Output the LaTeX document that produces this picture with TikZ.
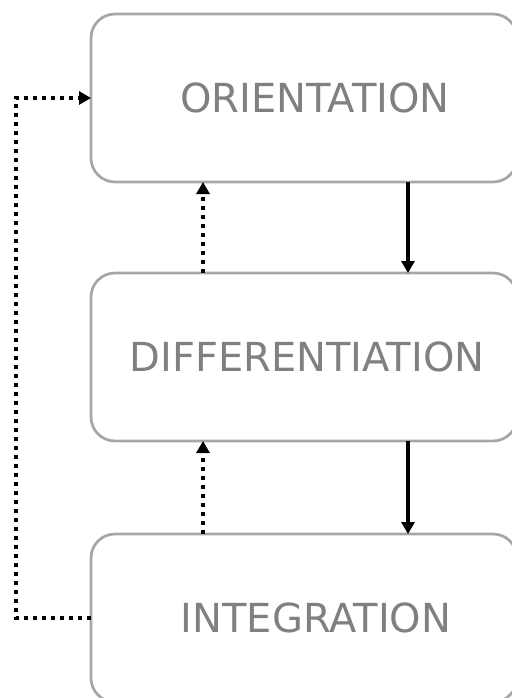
\documentclass[tikz,border=0pt]{standalone}
\usepackage{fontspec}
\setmainfont{DejaVu Sans}
\usepackage{xcolor}
\usetikzlibrary{arrows.meta,positioning,calc}
\definecolor{boxgray}{HTML}{A6A6A6}
\definecolor{textgray}{HTML}{808080}

\begin{document}
\begin{tikzpicture}[
    x=1pt, y=1pt,
    stage/.style={rectangle, draw=boxgray, line width=2.7pt, rounded corners=24pt, minimum width=426pt, minimum height=168pt, inner sep=0pt, outer sep=0pt},
    stagetext/.style={font=\fontsize{40}{48}\selectfont, text=textgray, inner sep=0pt},
    arrow/.style={-{Triangle[width=13pt,length=12pt]}, line width=3.8pt},
    fbarrow/.style={arrow, dash pattern=on 4pt off 5pt}
]
    \useasboundingbox (0,0) rectangle (511,-698);

    % Stages
    \node[stage, label={[stagetext, xshift=11pt]center:ORIENTATION}] (orient) at (304,-98) {};
    \node[stage, below=91pt of orient, label={[stagetext, xshift=3pt]center:DIFFERENTIATION}] (diff) {};
    \node[stage, below=93pt of diff, label={[stagetext, xshift=12pt]center:INTEGRATION}] (integ) {};

    % Arrows - downward flow
    \draw[arrow] ([xshift=104pt]orient.south) -- ([xshift=104pt]diff.north);
    \draw[arrow] ([xshift=104pt]diff.south) -- ([xshift=104pt]integ.north);

    % Arrows - upward (dotted)
    \draw[fbarrow] ([xshift=-101pt]diff.north) -- ([xshift=-101pt]orient.south);
    \draw[fbarrow] ([xshift=-101pt]integ.north) -- ([xshift=-101pt]diff.south);

    % Feedback loop
    \coordinate[left=75pt of integ.west] (corner);
    \draw[fbarrow] (integ.west) -- (corner) |- (orient.west);
\end{tikzpicture}
\end{document}
